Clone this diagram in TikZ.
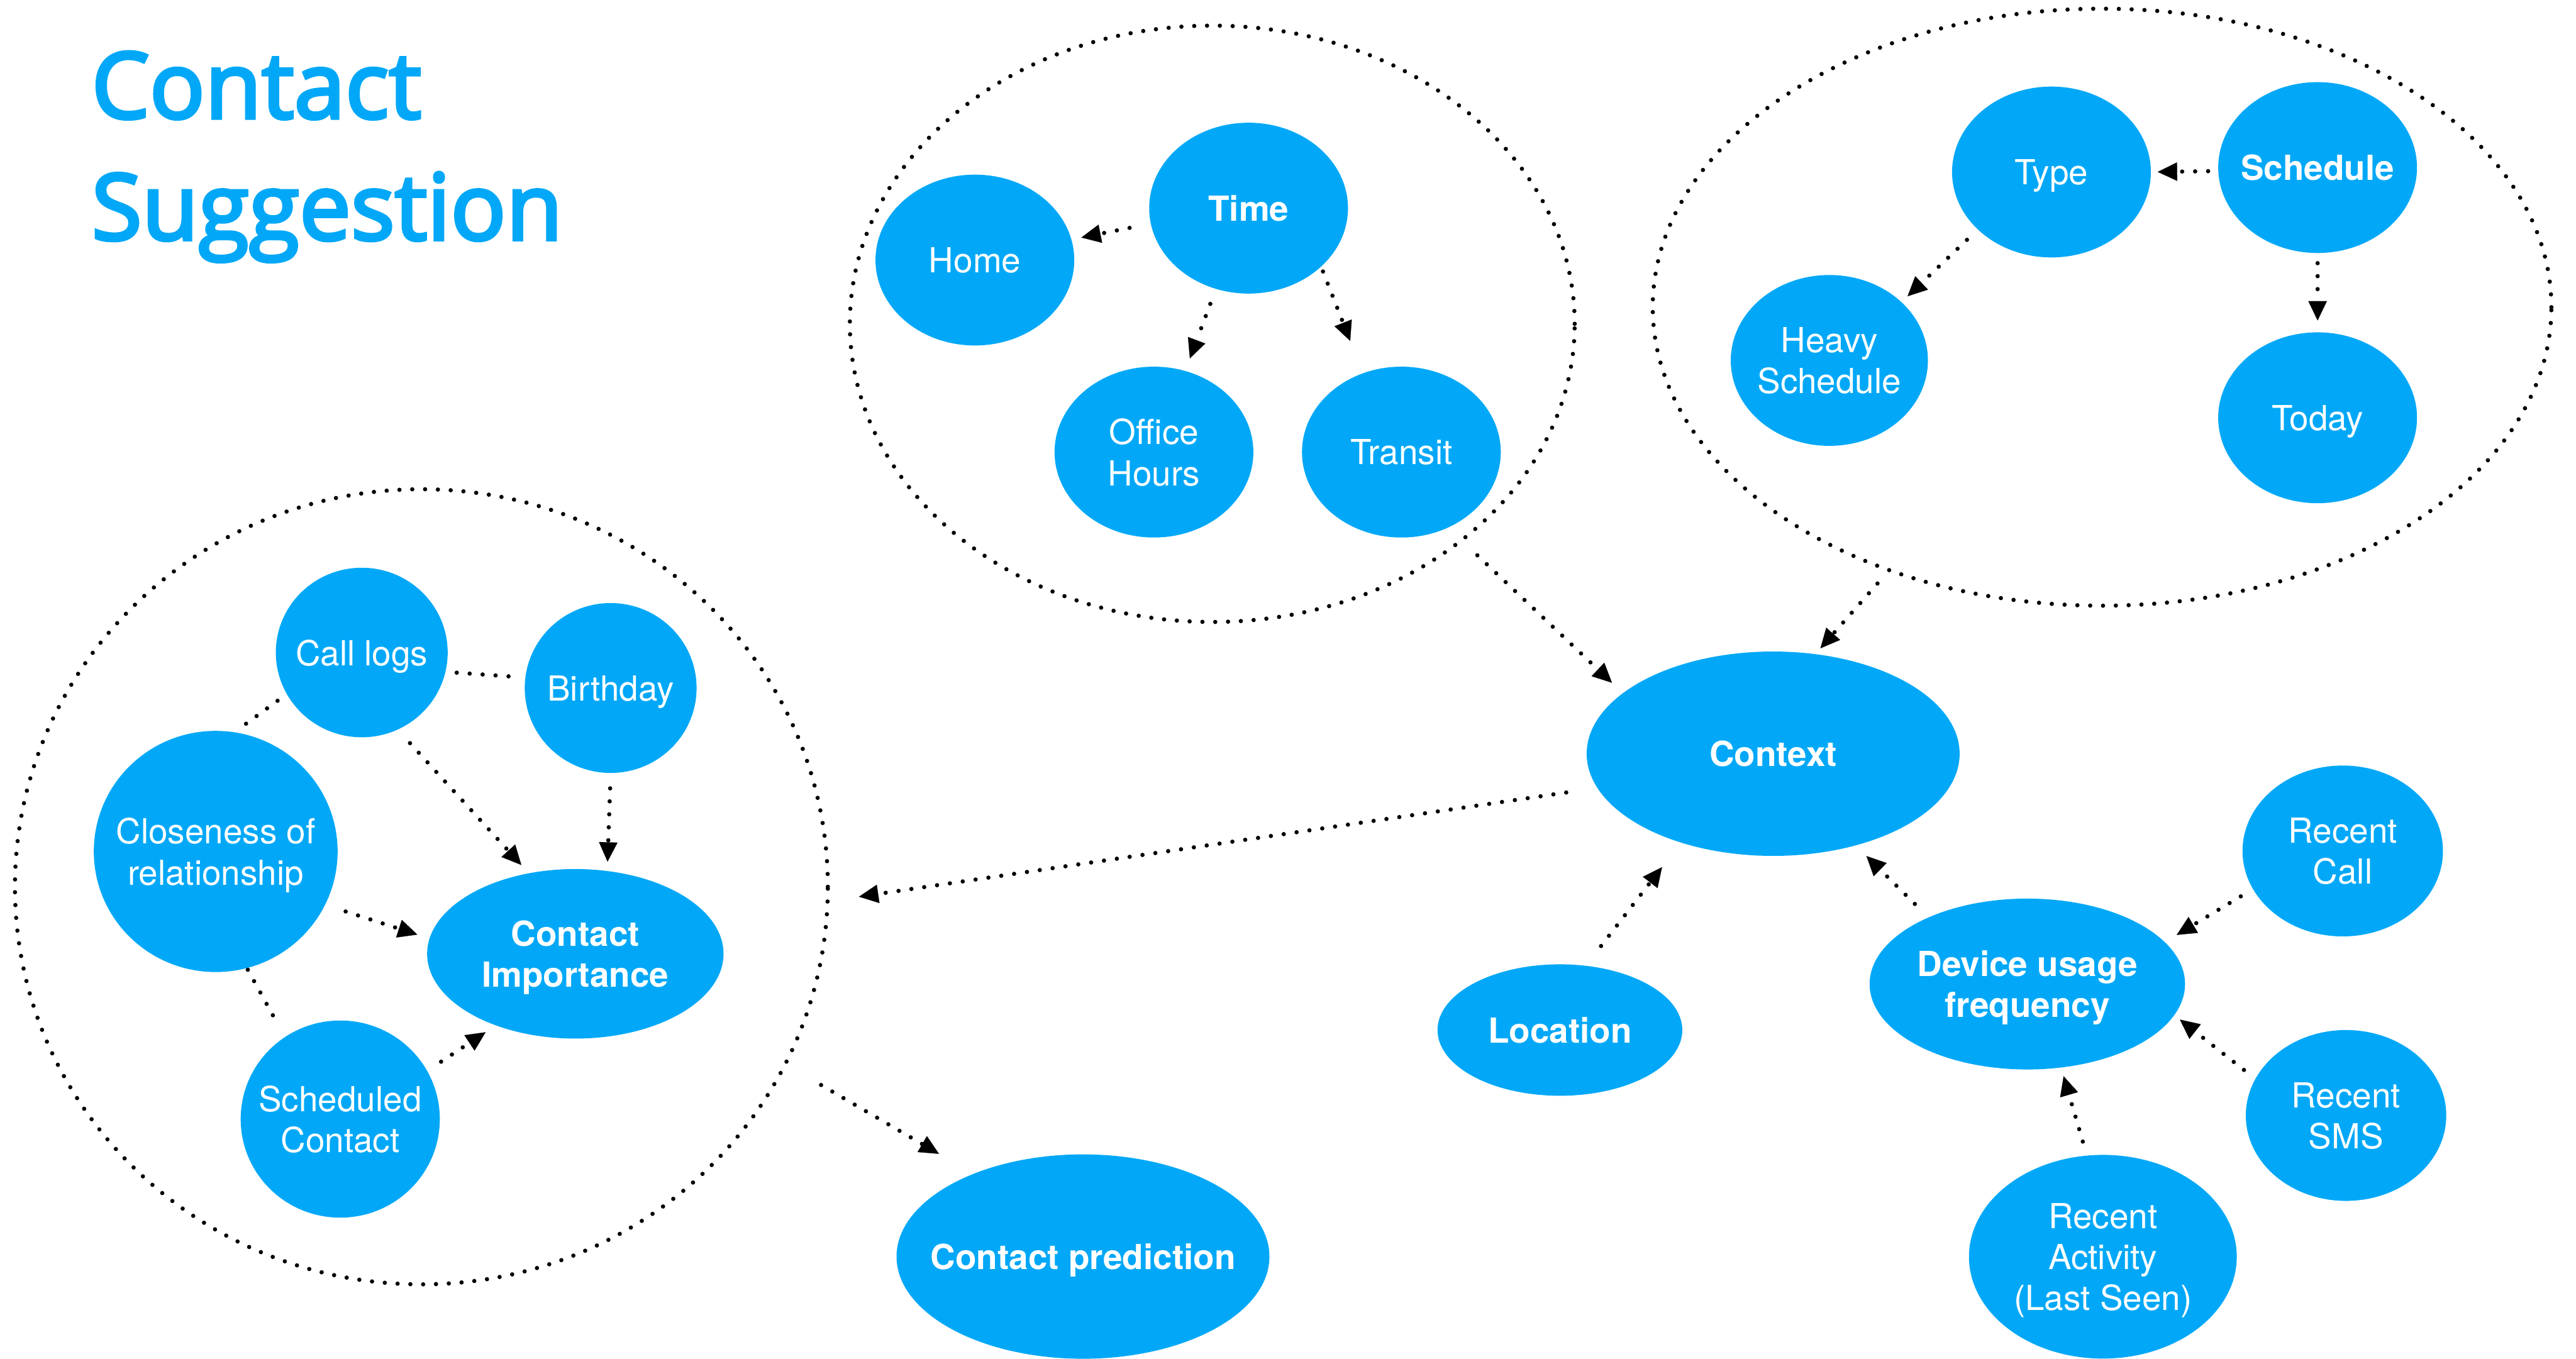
\documentclass[tikz,border=0pt]{standalone}
\usepackage{fontspec}
\setmainfont{TeX Gyre Heros}
\newfontfamily\titlefont{Open Sans}[FakeBold=3.5]
\usetikzlibrary{shapes.geometric,arrows.meta}
\definecolor{nodeblue}{RGB}{2,168,247}

\tikzset{
  bubble/.style={ellipse, fill=nodeblue, text=white, inner sep=-20pt,
    align=center, text depth=0pt, font=\fontsize{21}{25}\selectfont},
  keybubble/.style={bubble, font=\fontsize{21}{25}\selectfont\bfseries},
  dims/.style 2 args={minimum width=#1, minimum height=#2},
  group/.style={ellipse, draw=black, line width=2.6pt,
    dash pattern=on 0pt off 7.8pt, line cap=round, inner sep=0pt},
  link/.style={draw=black, line width=2.6pt,
    dash pattern=on 0pt off 7.9pt, line cap=round},
  arr/.style={link, -{Triangle[length=11.8pt, width=11.3pt, line width=0.1pt]}},
  titletext/.style={anchor=base west, inner sep=0pt, text=nodeblue,
    font=\titlefont\fontsize{56}{66}\selectfont},
}

\begin{document}
\begin{tikzpicture}[x=1pt, y=-1pt]
  \fill[white] (0,0) rectangle (1568,827);
  \useasboundingbox (0,0) rectangle (1568,827);

  % title
  \node[titletext] (title1) at (55.5,72) {Contact};
  \node[titletext] (title2) at (55.5,146) {Suggestion};

  % group outlines
  \node[group, dims={441.2pt}{363pt}] (timegroup) at (737.9,197.1) {};
  \node[group, dims={547pt}{363.4pt}] (schedgroup) at (1279.5,187) {};
  \node[group, dims={494.8pt}{484pt}] (leftgroup) at (256.5,539.8) {};

  % time cluster
  \node[keybubble, dims={121pt}{104pt}] (time) at (760,126.7) {Time};
  \node[bubble, dims={121pt}{104pt}] (home) at (593.4,158.3) {Home};
  \node[bubble, dims={121pt}{104pt}] (office) at (702.4,275.2) {Office\\Hours};
  \node[bubble, dims={121pt}{104pt}] (transit) at (853,275.2) {Transit};

  % schedule cluster
  \node[bubble, dims={121pt}{104pt}] (type) at (1248.7,104.7) {Type};
  \node[keybubble, dims={121pt}{104pt}] (schedule) at (1410.7,102) {Schedule};
  \node[bubble, dims={120pt}{104pt}] (heavy) at (1113.5,219.4) {Heavy\\Schedule};
  \node[bubble, dims={121pt}{104pt}] (today) at (1410.7,254.3) {Today};

  % contact cluster
  \node[bubble, dims={104.6pt}{103.2pt}] (calllogs) at (220.2,397.2) {Call logs};
  \node[bubble, dims={104.6pt}{103.4pt}] (birthday) at (371.7,418.8) {Birthday};
  \node[bubble, dims={148.4pt}{146.8pt}] (closeness) at (131.3,518.3) {Closeness of\\relationship};
  \node[keybubble, dims={180.4pt}{103.2pt}] (importance) at (350.2,580.6) {Contact\\Importance};
  \node[bubble, dims={121.2pt}{120pt}] (scheduled) at (207.1,681.2) {Scheduled\\Contact};

  % context and device usage
  \node[keybubble, dims={227pt}{124.4pt}] (context) at (1079.3,458.8) {Context};
  \node[keybubble, dims={149pt}{80pt}] (location) at (949.5,627) {Location};
  \node[keybubble, dims={192pt}{104pt}] (device) at (1234,599) {Device usage\\frequency};
  \node[bubble, dims={122pt}{104pt}] (recentcall) at (1426,518) {Recent\\Call};
  \node[bubble, dims={122pt}{104pt}] (recentsms) at (1428,679) {Recent\\SMS};
  \node[bubble, dims={163pt}{124pt}] (activity) at (1280,765) {Recent\\Activity\\(Last Seen)};
  \node[keybubble, dims={227pt}{124.4pt}] (prediction) at (659.2,764.9) {Contact prediction};

  % connectors inside the time cluster
  \draw[arr, shorten <=13pt, shorten >=6pt] (time.189) -- (home.12);
  \draw[arr, shorten <=9.6pt, shorten >=8pt] (time.248) -- (office.69);
  \draw[arr, shorten <=3pt, shorten >=21pt] (time.-39) -- (transit.116);

  % connectors inside the schedule cluster
  \draw[arr, shorten <=6pt, shorten >=4pt] (schedule.182) -- (type.0);
  \draw[arr, shorten <=9pt, shorten >=5pt] (type.218) -- (heavy.39);
  \draw[arr, shorten <=6pt, shorten >=7pt] (schedule.270) -- (today.90);

  % into and out of the context
  \draw[arr, shorten <=12pt, shorten >=9pt] (timegroup.-41.6) -- (context.158.8);
  \draw[arr, shorten <=9.5pt, shorten >=4.5pt] (schedgroup.231.4) -- (context.67.4);
  \draw[arr, shorten <=19pt, shorten >=18pt] (context.191.4) -- (leftgroup.-2.4);
  \draw[arr, shorten <=15pt, shorten >=18.7pt] (location.68.4) -- (context.224.8);
  \draw[arr, shorten <=11.5pt, shorten >=9pt] (device.146) -- (context.-48.4);

  % device usage inputs
  \draw[arr, shorten <=8.5pt, shorten >=8.3pt] (recentcall.203) -- (device.17.4);
  \draw[arr, shorten <=8.7pt, shorten >=4.2pt] (recentsms.158.3) -- (device.-12.8);
  \draw[arr, shorten <=8.7pt, shorten >=5.3pt] (activity.99.4) -- (device.-68.5);

  % contact cluster
  \draw[link, shorten <=6.7pt, shorten >=2.6pt] (calllogs.-13) -- (birthday.173.4);
  \draw[link, shorten <=6.8pt, shorten >=2pt] (calllogs.209.3) -- (closeness.81.2);
  \draw[arr, shorten <=11pt, shorten >=6.6pt] (calllogs.-65.9) -- (importance.120.8);
  \draw[arr, shorten <=9.2pt, shorten >=5.5pt] (birthday.270) -- (importance.69);
  \draw[arr, shorten <=13pt, shorten >=7.6pt] (closeness.-26.1) -- (importance.174.3);
  \draw[link, shorten <=1pt, shorten >=7.4pt] (closeness.-75.7) -- (scheduled.124);
  \draw[arr, shorten <=10pt, shorten >=7.3pt] (scheduled.29.8) -- (importance.222);

  % final prediction
  \draw[arr, shorten <=24pt, shorten >=24pt] (leftgroup.-26.8) -- (prediction.143.8);
\end{tikzpicture}
\end{document}
